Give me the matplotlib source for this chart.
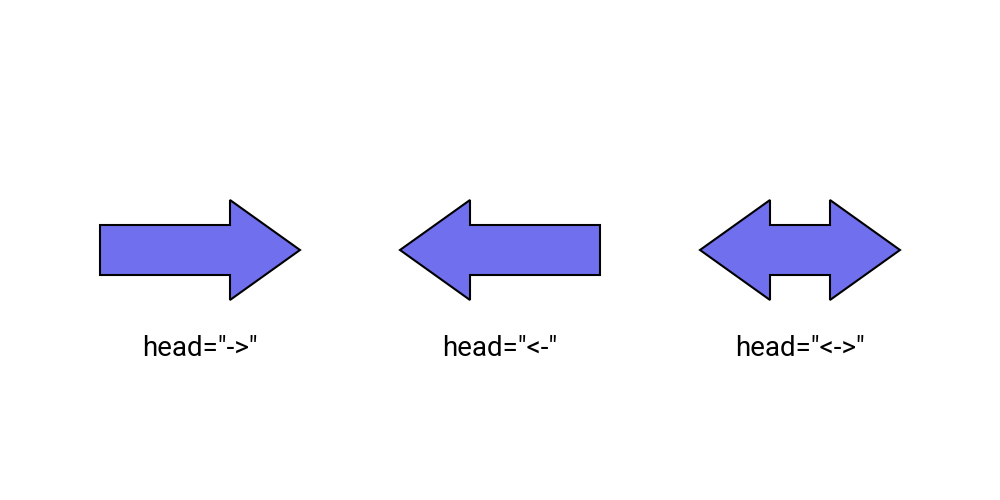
import matplotlib.pyplot as plt
from matplotlib.patches import Polygon

# arrow specs
heads = ['->', '<-', '<->']
labels = ['head="->"', 'head="<-"', 'head="<->"']
x_starts = [100, 400, 700]
arrow_len = 200
head_len = 70
body_half = 25
head_half = 50
y_mid = 250

fig = plt.figure(figsize=(10, 5), dpi=100)
ax = fig.add_axes([0, 0, 1, 1])
ax.set_xlim(0, 1000)
ax.set_ylim(500, 0)
ax.axis('off')


def arrow_points(x0, head):
    x1 = x0 + arrow_len
    right = head in ('->', '<->')
    left = head in ('<-', '<->')
    pts = []
    # top edge left -> right
    if left:
        pts += [(x0, y_mid), (x0 + head_len, y_mid - head_half), (x0 + head_len, y_mid - body_half)]
    else:
        pts += [(x0, y_mid - body_half)]
    if right:
        pts += [(x1 - head_len, y_mid - body_half), (x1 - head_len, y_mid - head_half), (x1, y_mid),
                (x1 - head_len, y_mid + head_half), (x1 - head_len, y_mid + body_half)]
    else:
        pts += [(x1, y_mid - body_half), (x1, y_mid + body_half)]
    if left:
        pts += [(x0 + head_len, y_mid + body_half), (x0 + head_len, y_mid + head_half)]
    else:
        pts += [(x0, y_mid + body_half)]
    return pts


for x0, head, label in zip(x_starts, heads, labels):
    ax.add_patch(Polygon(arrow_points(x0, head), closed=True, facecolor='#7070ee',
                         edgecolor='black', linewidth=1.5, joinstyle='miter'))
    ax.text(x0 + arrow_len / 2, 348, label, ha='center', va='center',
            fontsize=20, family='Roboto', color='black')

fig.savefig('out.png', dpi=100, facecolor='white')
